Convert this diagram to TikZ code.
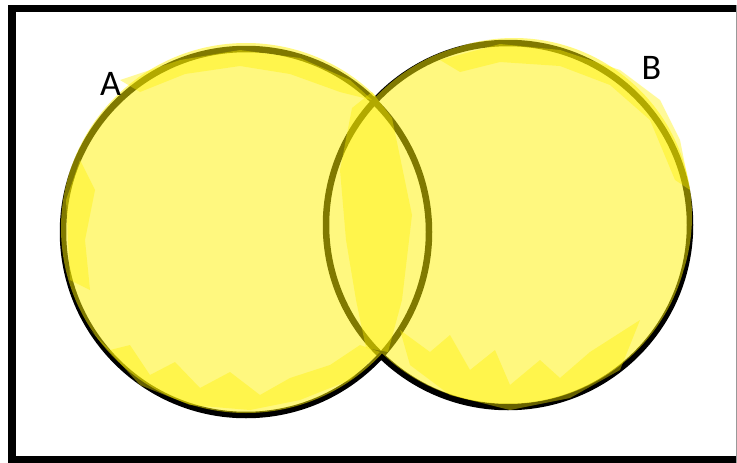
\documentclass[tikz,border=0pt]{standalone}
\usepackage{fontspec}
\setmainfont{Carlito}
\begin{document}
\begin{tikzpicture}[x=1pt,y=-1pt,
  outline/.style={draw=black,line width=6.5pt},
  shade/.style={fill=yellow,opacity=0.5},
  scribble/.style={fill=yellow,opacity=0.4},
  lbl/.style={font=\fontsize{36}{40}\selectfont,anchor=base,inner sep=0pt}]
\useasboundingbox (0,0) rectangle (737,463);
\fill[white] (0,0) rectangle (737,463);
\draw[line width=7.5pt] (12,8.5) rectangle (745,459.5);
\draw[black!40,line width=1pt] (736.5,5) -- (736.5,463);
% centres
\coordinate (A) at (246,232);
\coordinate (B) at (508,225);
% outlines
\draw[outline] (A) circle[radius=183pt];
\draw[outline] (B) circle[radius=182pt];
% union shading
\fill[shade] (246,228) circle[radius=185pt] (508,222) circle[radius=182pt]
  (514,216) circle[radius=178pt];
% scribbles
\fill[scribble] (352,108) -- (372,92) -- (392,118) -- (412,215) -- (402,300) -- (388,352) -- (366,348) -- (356,300) -- (346,240) -- (340,170) -- cycle;
\fill[scribble] (120,80) -- (180,60) -- (240,50) -- (300,58) -- (350,80) -- (372,100) -- (340,92) -- (290,74) -- (240,66) -- (185,74) -- (140,92) -- cycle;
\fill[scribble] (90,330) -- (110,350) -- (130,345) -- (150,375) -- (175,362) -- (200,388) -- (230,372) -- (260,395) -- (290,378) -- (330,365) -- (360,345) -- (380,352) -- (350,380) -- (300,400) -- (250,410) -- (190,405) -- (140,385) -- cycle;
\fill[scribble] (400,330) -- (430,352) -- (450,335) -- (470,370) -- (495,350) -- (510,385) -- (540,360) -- (560,378) -- (590,352) -- (640,320) -- (620,370) -- (570,398) -- (510,410) -- (450,395) -- (410,365) -- cycle;
\fill[scribble] (440,60) -- (500,44) -- (560,50) -- (620,70) -- (660,100) -- (680,140) -- (690,190) -- (675,180) -- (650,120) -- (610,85) -- (560,66) -- (500,62) -- (460,72) -- cycle;
\fill[scribble] (66,200) -- (80,160) -- (95,190) -- (85,240) -- (90,290) -- (70,280) -- cycle;
% labels
\node[lbl] (labA) at (110.5,95) {A};
\node[lbl] (labB) at (651.5,79) {B};
\end{tikzpicture}
\end{document}
